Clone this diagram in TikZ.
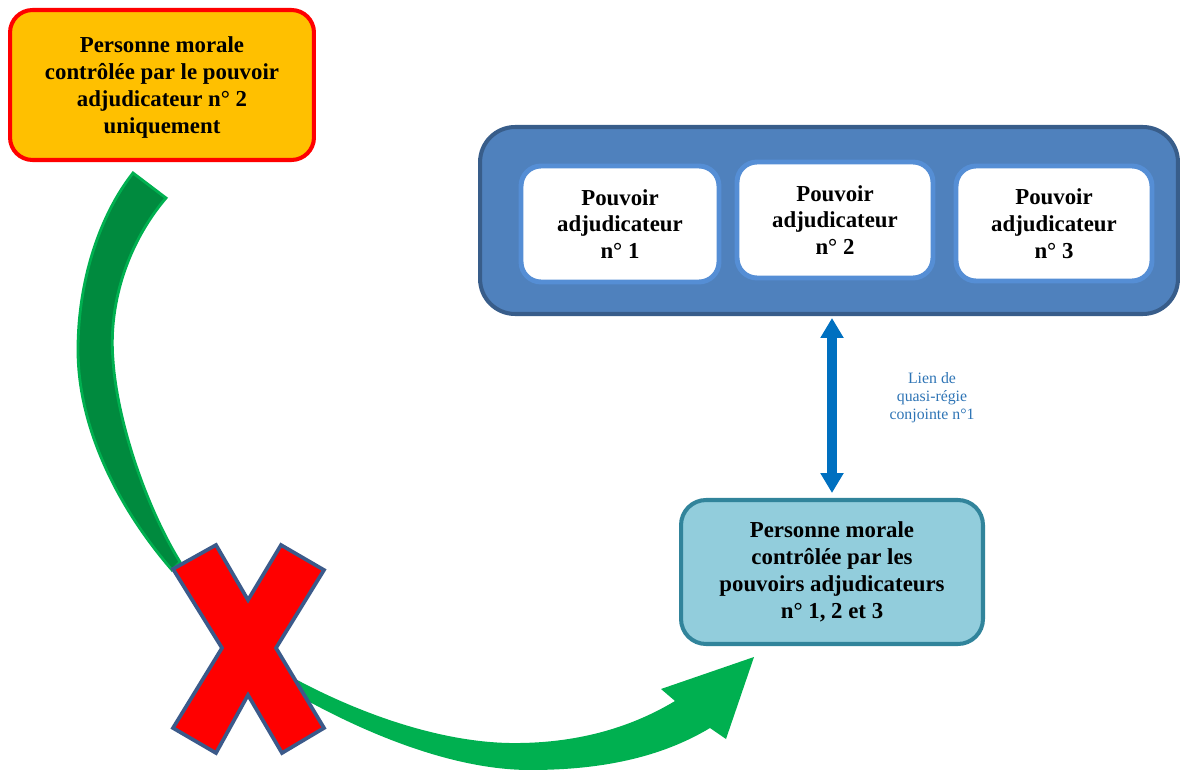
\documentclass[tikz,border=0pt]{standalone}
\usepackage{fontspec}
\setmainfont{Liberation Serif}
\usetikzlibrary{calc}
\usetikzlibrary{arrows.meta}

\definecolor{orangefond}{HTML}{FFC000}
\definecolor{rougebord}{HTML}{FF0000}
\definecolor{bleucadre}{HTML}{4F81BD}
\definecolor{bleubord}{HTML}{385D8A}
\definecolor{bleupa}{HTML}{558ED5}
\definecolor{cyanfond}{HTML}{92CDDC}
\definecolor{cyanbord}{HTML}{31849B}
\definecolor{bleulien}{HTML}{0070C0}
\definecolor{textelien}{HTML}{2E74B5}
\definecolor{vertclair}{HTML}{00B050}
\definecolor{vertfonce}{HTML}{008A3E}
\definecolor{bordcroix}{HTML}{3B5A8A}

\begin{document}
\begin{tikzpicture}[x=0.02cm,y=-0.02cm,
    boite/.style={rectangle,align=center,inner sep=0pt,line width=2.3pt,
      font=\bfseries\fontsize{13}{15.3}\selectfont},
    pouvoir/.style={boite,draw=bleupa,fill=white,line width=2.8pt,
      minimum height=2.32cm,rounded corners=0.4cm}]
    \useasboundingbox (0,0) rectangle (1186,770);
    \coordinate (C1) at (162,85);
    \coordinate (C2) at (829,220.5);
    \coordinate (C3) at (832,572);

    % fleche verte courbe
    \fill[vertclair] (225,635) .. controls (300,690) and (420,745) .. (520,743)
      .. controls (590,742) and (640,722) .. (675,701)
      -- (661,689) -- (754,657) -- (726,739) -- (710,728)
      .. controls (660,758) and (600,770) .. (530,770)
      .. controls (440,770) and (330,720) .. (240,660) -- cycle;
    \draw[vertclair,fill=vertfonce,line width=1.6pt,line join=miter]
      (133,173) -- (166,198)
      .. controls (130,240) and (108,300) .. (113,360)
      .. controls (117,420) and (145,505) .. (180,562)
      -- (172,570)
      .. controls (120,510) and (78,430) .. (78,350)
      .. controls (78,280) and (100,215) .. cycle;
    \draw[bordcroix,fill=rougebord,line width=2.1pt,line join=miter]
      (173,569) -- (216,545) -- (248,600) -- (281,545) -- (324,570) -- (276,648)
      -- (324,728) -- (282,753) -- (248,695) -- (216,753) -- (173,728) -- (222,648) -- cycle;

    \node[boite,draw=rougebord,fill=orangefond,minimum width=6.08cm,minimum height=3cm,
      rounded corners=0.45cm,text depth=0pt] (morale2) at (C1)
      {Personne morale\\contrôlée par le pouvoir\\adjudicateur n° 2\\uniquement};

    \node[rectangle,draw=bleubord,fill=bleucadre,line width=2.3pt,minimum width=13.96cm,
      minimum height=3.74cm,rounded corners=0.7cm] (groupe) at (C2) {};
    \node[pouvoir,minimum width=3.96cm] (pa1) at (620,224) {Pouvoir\\adjudicateur\\n° 1};
    \node[pouvoir,minimum width=3.92cm] (pa2) at (835,220) {Pouvoir\\adjudicateur\\n° 2};
    \node[pouvoir,minimum width=3.92cm,minimum height=2.3cm] (pa3) at (1054,223.5)
      {Pouvoir\\adjudicateur\\n° 3};

    \node[boite,draw=cyanbord,fill=cyanfond,minimum width=6.04cm,minimum height=2.88cm,
      rounded corners=0.5cm] (morale123) at (C3)
      {Personne morale\\contrôlée par les\\pouvoirs adjudicateurs\\n° 1, 2 et 3};

    \draw[bleulien,line width=5.67pt,{Triangle[width=12.5pt,length=11.3pt]}-{Triangle[width=12.5pt,length=11.3pt]},
      shorten <=0.04cm,shorten >=0.1cm] (morale123.north |- groupe.south) -- (morale123.north);
    \node[align=center,text=textelien,font=\fontsize{9}{10.2}\selectfont] (lien) at (932,398)
      {Lien de\\quasi-régie\\conjointe n°1};
  \end{tikzpicture}
\end{document}
